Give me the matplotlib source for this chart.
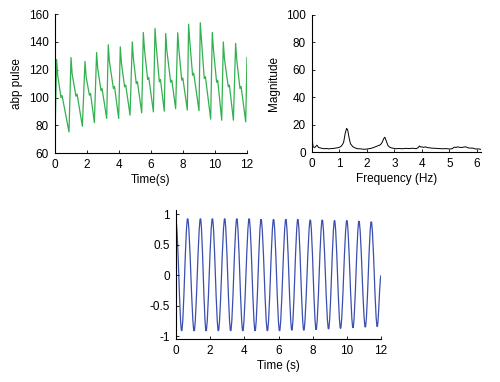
import numpy as np
import matplotlib
matplotlib.use('Agg')
import matplotlib.pyplot as plt
from matplotlib.path import Path
from matplotlib.patches import PathPatch

plt.rcParams['font.family'] = ['Liberation Sans', 'DejaVu Sans']

# abp pulse: start point, then per beat peak -> shoulder -> notch -> bump -> trough
abp_start = (0.0, 71.5)
abp_peak_t = [0.10, 1.00, 1.875, 2.60, 3.33, 4.08, 4.83, 5.52, 6.25, 6.92, 7.67, 8.35, 9.08, 9.83, 10.52, 11.29, 12.0]
abp_peak_v = [127.4, 128.8, 126.0, 132.4, 138.0, 136.5, 140.0, 146.8, 149.7, 146.0, 146.6, 152.8, 153.8, 146.8, 140.0, 139.0, 128.8]
abp_shoulder_t = [0.17, 1.07, 1.945, 2.67, 3.40, 4.15, 4.90, 5.59, 6.32, 6.99, 7.74, 8.42, 9.15, 9.90, 10.59, 11.36]
abp_shoulder_v = [116.0, 117.0, 115.0, 121.0, 126.0, 125.0, 128.0, 135.0, 138.0, 134.0, 135.0, 141.0, 142.0, 135.0, 128.0, 127.0]
abp_notch_t = [0.375, 1.31, 2.15, 2.875, 3.65, 4.35, 5.08, 5.79, 6.52, 7.23, 7.92, 8.60, 9.33, 10.10, 10.83, 11.56]
abp_notch_v = [100.0, 101.0, 101.7, 105.0, 106.5, 107.7, 110.0, 113.0, 111.3, 111.0, 112.5, 116.0, 113.7, 111.0, 107.7, 106.5]
abp_bump_t = [0.44, 1.38, 2.22, 2.94, 3.72, 4.42, 5.15, 5.86, 6.59, 7.30, 7.99, 8.67, 9.40, 10.17, 10.90, 11.63]
abp_bump_v = [101.5, 102.5, 103.0, 106.5, 108.0, 109.0, 111.5, 114.5, 113.0, 112.5, 114.0, 117.5, 115.0, 112.5, 109.0, 108.0]
abp_trough_t = [0.875, 1.71, 2.46, 3.23, 3.98, 4.69, 5.42, 6.15, 6.83, 7.54, 8.27, 9.00, 9.73, 10.42, 11.15, 11.92]
abp_trough_v = [75.3, 79.4, 82.0, 85.0, 85.0, 87.3, 89.0, 89.7, 90.2, 92.0, 91.0, 90.5, 84.5, 83.7, 83.7, 82.5]

# magnitude spectrum
freq = [0.0, 0.0, 0.04, 0.10, 0.18, 0.24, 0.34, 0.45, 0.52, 0.62, 0.70, 0.76, 0.85, 0.94, 1.00, 1.06,
        1.11, 1.15, 1.21, 1.26, 1.30, 1.35, 1.40, 1.49, 1.58, 1.67, 1.78, 1.88, 1.97, 2.06, 2.15,
        2.24, 2.33, 2.40, 2.45, 2.50, 2.55, 2.61, 2.65, 2.70, 2.76, 2.82, 2.88, 2.97, 3.06, 3.15,
        3.30, 3.42, 3.54, 3.66, 3.79, 3.86, 3.91, 3.96, 4.00, 4.06, 4.13, 4.20, 4.27, 4.38, 4.51,
        4.63, 4.75, 4.88, 5.00, 5.10, 5.18, 5.24, 5.30, 5.38, 5.45, 5.52, 5.60, 5.66, 5.72, 5.84,
        5.96, 6.05, 6.14]
mag = [0.5, 10.5, 3.8, 3.3, 5.0, 3.3, 2.8, 2.4, 2.6, 2.3, 2.6, 2.5, 2.9, 3.1, 3.5, 4.2,
       5.5, 7.0, 13.8, 17.3, 16.0, 10.4, 6.0, 3.8, 2.9, 2.4, 2.3, 2.0, 2.1, 2.4, 2.7,
       3.3, 4.0, 4.6, 4.9, 5.6, 6.9, 9.8, 10.8, 8.2, 4.9, 3.6, 3.1, 2.7, 2.4, 2.6,
       2.4, 2.7, 2.5, 2.8, 2.4, 3.2, 4.4, 3.6, 3.8, 3.4, 3.8, 3.2, 3.1, 2.8, 2.7,
       2.5, 2.4, 2.5, 2.2, 2.4, 3.6, 3.3, 3.8, 3.4, 3.3, 3.6, 3.8, 3.2, 2.9, 2.9,
       2.2, 2.3, 2.0]

# filtered pulse (sine-like): start, extremes, end
sig_start = (0.0, 0.88)
sig_trough_t = [0.33, 1.06, 1.76, 2.48, 3.20, 3.91, 4.63, 5.35, 6.06, 6.78, 7.48, 8.20, 8.93, 9.63, 10.36, 11.08, 11.78]
sig_trough_v = [-0.91, -0.91, -0.91, -0.91, -0.91, -0.91, -0.91, -0.91, -0.91, -0.90, -0.90, -0.89, -0.88, -0.87, -0.86, -0.85, -0.84]
sig_peak_t = [0.68, 1.43, 2.13, 2.85, 3.56, 4.28, 4.98, 5.71, 6.43, 7.13, 7.86, 8.56, 9.28, 10.00, 10.71, 11.43]
sig_peak_v = [0.93, 0.93, 0.93, 0.93, 0.93, 0.93, 0.92, 0.92, 0.92, 0.92, 0.91, 0.91, 0.90, 0.90, 0.89, 0.88]
sig_end = (12.0, 0.0)

fs = 8.5


def style(ax):
    ax.spines['top'].set_visible(False)
    ax.spines['right'].set_visible(False)
    ax.tick_params(direction='in', length=2.5, width=0.6, labelsize=fs, pad=4.5)
    for s in ('left', 'bottom'):
        ax.spines[s].set_linewidth(0.8)


fig = plt.figure(figsize=(5, 3.82), dpi=100)

# top left
ax1 = fig.add_axes([0.11, 0.599, 0.384, 0.364])
at = [abp_start[0]]
av = [abp_start[1]]
for i in range(len(abp_trough_t)):
    at += [abp_peak_t[i], abp_shoulder_t[i], abp_notch_t[i], abp_bump_t[i], abp_trough_t[i]]
    av += [abp_peak_v[i], abp_shoulder_v[i], abp_notch_v[i], abp_bump_v[i], abp_trough_v[i]]
at.append(abp_peak_t[-1])
av.append(abp_peak_v[-1])
ax1.plot(at, av, color='#33b04f', lw=0.9)
ax1.set_xlim(0, 12)
ax1.set_ylim(60, 160)
ax1.set_xticks([0, 2, 4, 6, 8, 10, 12])
ax1.set_yticks([60, 80, 100, 120, 140, 160])
ax1.set_xlabel('Time(s)', fontsize=fs, labelpad=2)
ax1.set_ylabel('abp pulse', fontsize=fs, labelpad=4)
style(ax1)

# top right
ax2 = fig.add_axes([0.624, 0.602, 0.338, 0.359])
ax2.plot(freq, mag, color='black', lw=0.7)
ax2.set_xlim(0, 6.15)
ax2.set_ylim(0, 100)
ax2.set_xticks([0, 1, 2, 3, 4, 5, 6])
ax2.set_yticks([0, 20, 40, 60, 80, 100])
ax2.set_xlabel('Frequency (Hz)', fontsize=fs, labelpad=2)
ax2.set_ylabel('Magnitude', fontsize=fs, labelpad=4)
style(ax2)

# bottom
ax3 = fig.add_axes([0.352, 0.113, 0.41, 0.337])
pts = [sig_start]
for i in range(len(sig_trough_t)):
    pts.append((sig_trough_t[i], sig_trough_v[i]))
    if i < len(sig_peak_t):
        pts.append((sig_peak_t[i], sig_peak_v[i]))
pts.append(sig_end)
verts = [pts[0]]
codes = [Path.MOVETO]
for (t0, v0), (t1, v1) in zip(pts[:-1], pts[1:]):
    d = (t1 - t0) / 3.0
    verts += [(t0 + d, v0), (t1 - d, v1), (t1, v1)]
    codes += [Path.CURVE4] * 3
ax3.add_patch(PathPatch(Path(verts, codes), fill=False, edgecolor='#3b4fae', lw=0.9))
ax3.set_xlim(0, 12)
ax3.set_ylim(-1.04, 1.07)
ax3.set_xticks([0, 2, 4, 6, 8, 10, 12])
ax3.set_yticks([-1, -0.5, 0, 0.5, 1])
ax3.set_yticklabels(['-1', '-0.5', '0', '0.5', '1'])
ax3.set_xlabel('Time (s)', fontsize=fs, labelpad=2)
style(ax3)

fig.savefig('out.png', dpi=100)
